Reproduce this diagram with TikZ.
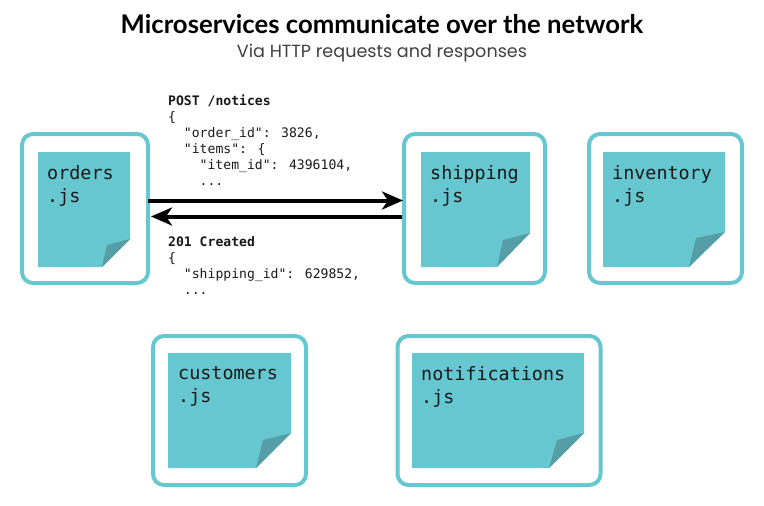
\documentclass[tikz,border=0pt]{standalone}
\usepackage{fontspec}
\setmainfont{Poppins}
\newfontfamily\headfont{Lato}
\newfontfamily\codefont{DejaVu Sans Mono}
\usetikzlibrary{arrows.meta}
\definecolor{svcteal}{HTML}{66C7D1}
\definecolor{foldteal}{HTML}{559EA8}
\newcommand{\ind}{\hspace*{15.76pt}}
\tikzset{
	svcbox/.style={draw=svcteal, line width=4pt, rounded corners=11pt, fill=white, inner sep=0pt},
	notetext/.style={anchor=north west, inner sep=0pt, align=left, text=black!90,
		font=\codefont\fontsize{18.4}{23}\selectfont},
	codetext/.style={anchor=north west, inner sep=0pt, align=left, text=black!90,
		font=\codefont\fontsize{13.1}{16}\selectfont},
	msg/.style={line width=4pt, -{Stealth[length=21pt,width=18pt,inset=6pt]}}
}
\begin{document}
\begin{tikzpicture}[x=1pt,y=-1pt]
\useasboundingbox (0,0) rectangle (764,506);

\node[font=\headfont\fontsize{25.7}{30}\selectfont\bfseries, anchor=base] (title) at (382,33) {Microservices communicate over the network};
\node[font=\fontsize{17.6}{22}\selectfont, text=black!75, anchor=base] (subtitle) at (382,57) {Via HTTP requests and responses};

% orders
\node[svcbox, minimum width=126pt, minimum height=149pt] (orders) at (85,208.5) {};
\fill[svcteal] (38,152) -- (130,152) -- (130,239) -- (102,267) -- (38,267) -- cycle;
\fill[foldteal] (102,267) -- (107,245) -- (130,239) -- cycle;
\node[notetext] (orderstext) at (47,165) {orders\\.js};

% shipping
\node[svcbox, minimum width=141pt, minimum height=149pt] (shipping) at (474.5,208.5) {};
\fill[svcteal] (421,152) -- (530,152) -- (530,233) -- (497,267) -- (421,267) -- cycle;
\fill[foldteal] (497,267) -- (503,240) -- (530,233) -- cycle;
\node[notetext] (shippingtext) at (430,165) {shipping\\.js};

% inventory
\node[svcbox, minimum width=153pt, minimum height=149pt] (inventory) at (665.5,208.5) {};
\fill[svcteal] (603,152) -- (725,152) -- (725,232) -- (689,267) -- (603,267) -- cycle;
\fill[foldteal] (689,267) -- (696,238) -- (725,232) -- cycle;
\node[notetext] (inventorytext) at (612,165) {inventory\\.js};

% customers
\node[svcbox, minimum width=153pt, minimum height=149pt] (customers) at (229.5,410.5) {};
\fill[svcteal] (168,353) -- (291,353) -- (291,433) -- (256,468) -- (168,468) -- cycle;
\fill[foldteal] (256,468) -- (263,440) -- (291,433) -- cycle;
\node[notetext] (customerstext) at (178,366) {customers\\.js};

% notifications
\node[svcbox, minimum width=203pt, minimum height=149pt] (notifications) at (499,410.5) {};
\fill[svcteal] (412,353) -- (584,353) -- (584,433) -- (549,468) -- (412,468) -- cycle;
\fill[foldteal] (549,468) -- (557,440) -- (584,433) -- cycle;
\node[notetext] (notificationstext) at (421,366) {notifications\\.js};

% messages
\draw[msg] ([yshift=8pt,xshift=-2pt]orders.east) -- ([yshift=8pt,xshift=1pt]shipping.west);
\draw[msg] ([yshift=-8pt]shipping.west) -- ([yshift=-8pt,xshift=1pt]orders.east);

\node[codetext] (request) at (168,95) {\textbf{POST /notices}\\
\{\\
\ind"order\_id": 3826,\\
\ind"items": \{\\
\ind\ind"item\_id": 4396104,\\
\ind\ind...};
\node[codetext] (response) at (168,236) {\textbf{201 Created}\\
\{\\
\ind"shipping\_id": 629852,\\
\ind...};
\end{tikzpicture}
\end{document}
